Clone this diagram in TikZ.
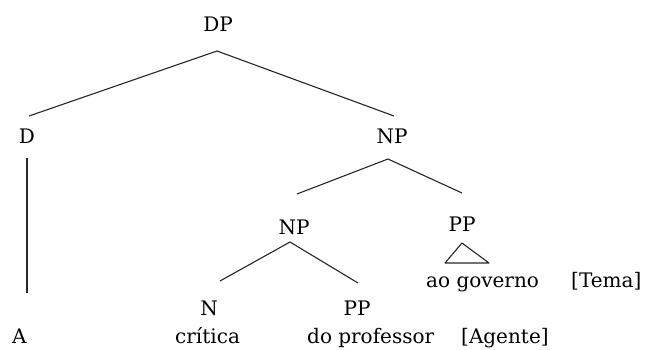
\documentclass[tikz,border=0pt]{standalone}
\usepackage{fontspec}
\setmainfont{DejaVu Serif}
\begin{document}
\begin{tikzpicture}[x=1pt, y=-1pt,
  lbl/.style={inner sep=0pt, anchor=base, font=\fontsize{20}{24}\selectfont},
  lblw/.style={lbl, anchor=base west},
  branch/.style={line width=1.1pt, draw=black!85},
  stem/.style={line width=1.7pt, draw=black!85},
  roof/.style={line width=1.1pt, draw=black!85, line join=round}]
\useasboundingbox (0,0) rectangle (646,349);

% category labels
\node[lbl] (dp)  at (218,31)  {DP};
\node[lbl] (d)   at (27,143)  {D};
\node[lbl] (np1) at (392,143) {NP};
\node[lbl] (np2) at (294,234) {NP};
\node[lbl] (pp1) at (462,231) {PP};
\node[lbl] (n)   at (209,315) {N};
\node[lbl] (pp2) at (357,315) {PP};

% terminal words and thematic roles
\node[lblw] (a)       at (12,343)  {A};
\node[lblw] (critica) at (175,343) {crítica};
\node[lblw] (prof)    at (307,343) {do professor};
\node[lblw] (agente)  at (461,343) {[Agente]};
\node[lblw] (gov)     at (426,287) {ao governo};
\node[lblw] (tema)    at (571,287) {[Tema]};

% branch points
\coordinate (dp-top) at (217,51);
\coordinate (dp-l)   at (29,116);
\coordinate (dp-r)   at (394,116);
\coordinate (d-top)  at (27,158);
\coordinate (d-bot)  at (27,293);
\coordinate (np1-top) at (388,159);
\coordinate (np1-l)  at (297,194);
\coordinate (np1-r)  at (462,193);
\coordinate (np2-top) at (290,242);
\coordinate (np2-l)  at (220,281);
\coordinate (np2-r)  at (358,283);
\coordinate (tri-top) at (462,243);
\coordinate (tri-l)  at (445,263);
\coordinate (tri-r)  at (489,263);

% branches
\draw[branch] (dp-l) -- (dp-top) -- (dp-r);
\draw[stem] (d-top) -- (d-bot);
\draw[branch] (np1-l) -- (np1-top) -- (np1-r);
\draw[branch] (np2-l) -- (np2-top) -- (np2-r);
\draw[roof] (tri-top) -- (tri-r) -- (tri-l) -- cycle;
\end{tikzpicture}
\end{document}
